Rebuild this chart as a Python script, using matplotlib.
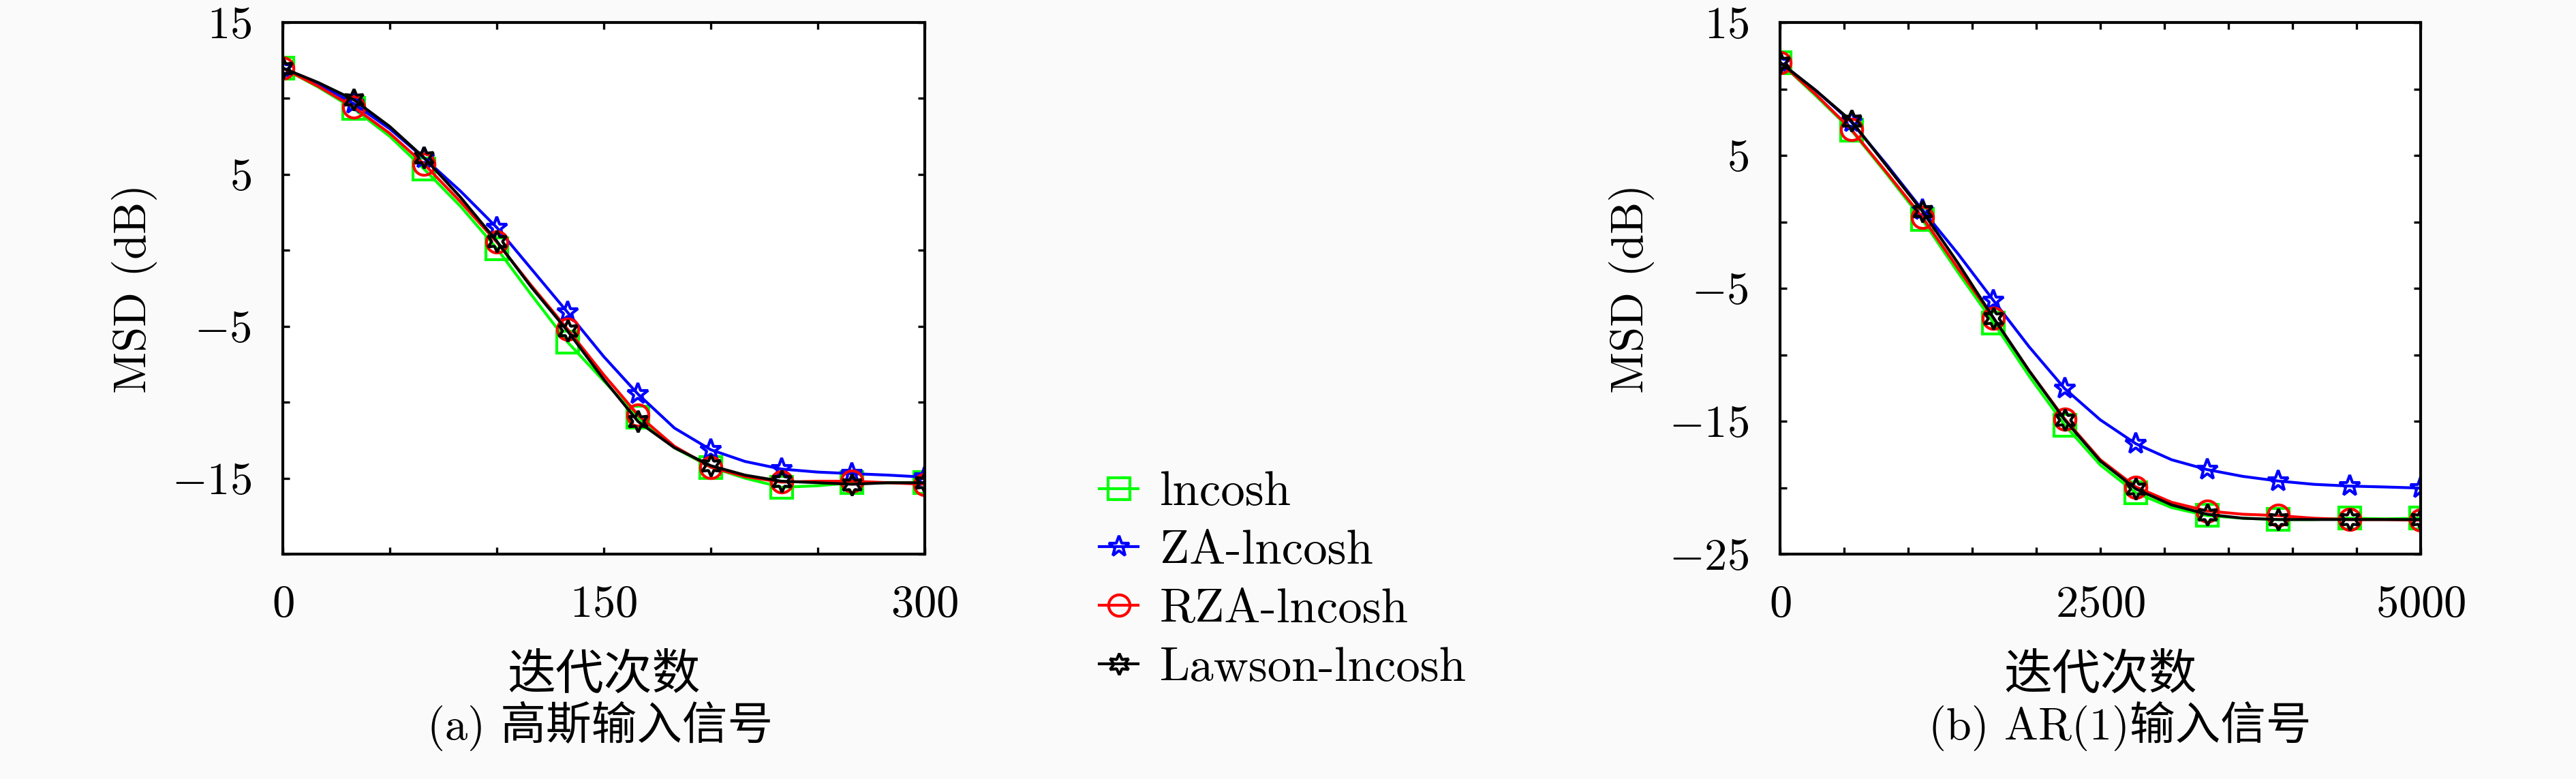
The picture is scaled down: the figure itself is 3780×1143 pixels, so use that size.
import numpy as np
import matplotlib
matplotlib.use("Agg")
import matplotlib.pyplot as plt
from matplotlib.ticker import MultipleLocator, FixedLocator

plt.rcParams['font.family'] = ['cmr10', 'Noto Sans CJK SC', 'DejaVu Sans']
plt.rcParams['mathtext.fontset'] = 'cm'
plt.rcParams['axes.formatter.use_mathtext'] = True
plt.rcParams['axes.unicode_minus'] = True

labels = ['lncosh', 'ZA-lncosh', 'RZA-lncosh', 'Lawson-lncosh']
colors = ['#00ff00', '#0000ff', '#ff0000', '#000000']
markers = ['s', '*', 'o', (6, 1, 0)]

# (a) Gaussian input, x every ~16.7 iterations (markers on every 2nd point)
xa = [0, 16.5, 33, 50, 66, 83, 100, 116, 133, 150, 166, 183, 200, 216, 233, 250, 266, 283, 300]
a_lncosh = [12.0, 10.75, 9.34, 7.5, 5.35, 2.9, 0.12, -2.9, -6.03, -8.6, -11.0, -13.0,
            -14.28, -15.0, -15.6, -15.5, -15.3, -15.3, -15.3]
a_za = [12.0, 10.95, 9.67, 8.0, 6.07, 3.9, 1.5, -1.2, -4.07, -7.0, -9.47, -11.7,
        -13.13, -13.9, -14.4, -14.6, -14.7, -14.8, -14.93]
a_rza = [12.0, 10.8, 9.44, 7.7, 5.68, 3.2, 0.54, -2.3, -5.18, -8.2, -10.84, -12.9,
         -14.28, -14.9, -15.26, -15.2, -15.2, -15.3, -15.4]
a_lawson = [12.0, 11.05, 9.93, 8.15, 6.1, 3.5, 0.6, -2.4, -5.3, -8.5, -11.27, -13.0,
            -14.18, -14.8, -15.2, -15.3, -15.4, -15.3, -15.3]

# (b) AR(1) input
xb = [0, 278, 556, 833, 1111, 1389, 1667, 1944, 2222, 2500, 2778, 3056, 3333, 3611,
      3889, 4167, 4444, 4722, 5000]
b_lncosh = [12.0, 9.5, 6.9, 3.6, 0.16, -3.8, -7.6, -11.6, -15.3, -18.3, -20.4, -21.5,
            -22.1, -22.3, -22.4, -22.4, -22.3, -22.35, -22.3]
b_za = [12.0, 9.9, 7.52, 4.3, 0.9, -2.4, -5.93, -9.4, -12.55, -14.9, -16.7, -17.9,
        -18.64, -19.15, -19.5, -19.75, -19.88, -19.95, -20.03]
b_rza = [12.0, 9.6, 6.96, 3.7, 0.35, -3.5, -7.24, -11.2, -14.83, -17.9, -19.95, -21.1,
         -21.75, -22.0, -22.1, -22.3, -22.4, -22.4, -22.45]
b_lawson = [12.0, 9.9, 7.6, 4.2, 0.8, -3.1, -7.24, -11.2, -14.9, -18.0, -20.1, -21.3,
            -22.0, -22.3, -22.4, -22.4, -22.4, -22.4, -22.4]

fs = 16
fig = plt.figure(figsize=(12.6, 3.81), dpi=300, facecolor='#fafafa')
ax1 = fig.add_axes([0.1098, 0.2887, 0.2492, 0.6824])
ax2 = fig.add_axes([0.6910, 0.2887, 0.2487, 0.6824])


def draw(ax, x, series, xmax, xstep, xlab, ymin, ylab):
    for y, c, m, lb in zip(series, colors, markers, labels):
        ax.plot(x, y, color=c, lw=1.0, marker=m, markevery=2, markersize=7.5,
                markerfacecolor='none', markeredgecolor=c, markeredgewidth=1.0, label=lb)
    ax.set_xlim(0, xmax)
    ax.set_ylim(ymin, 15)
    ax.xaxis.set_major_locator(FixedLocator(xlab))
    ax.xaxis.set_minor_locator(MultipleLocator(xstep))
    ax.yaxis.set_major_locator(FixedLocator(ylab))
    ax.yaxis.set_minor_locator(MultipleLocator(5))
    ax.tick_params(which='both', direction='in', top=True, right=True, length=2.5,
                   width=0.8, labelsize=fs, pad=11)
    ax.set_facecolor('white')
    for s in ax.spines.values():
        s.set_linewidth(1.0)
    ax.set_xlabel('迭代次数', fontsize=fs + 1, labelpad=10)
    ax.set_ylabel('MSD (dB)', fontsize=fs, labelpad=5)


draw(ax1, xa, [a_lncosh, a_za, a_rza, a_lawson], 300, 50, [0, 150, 300], -20, [15, 5, -5, -15])
draw(ax2, xb, [b_lncosh, b_za, b_rza, b_lawson], 5000, 500, [0, 2500, 5000], -25,
     [15, 5, -5, -15, -25])

fig.text(0.233, 0.068, '(a) 高斯输入信号', fontsize=fs, ha='center', va='center')
fig.text(0.823, 0.068, '(b) AR(1)输入信号', fontsize=fs, ha='center', va='center')

h, l = ax1.get_legend_handles_labels()
fig.legend(h, l, loc='center', bbox_to_anchor=(0.498, 0.2545), frameon=False,
           fontsize=17, handlelength=0.8, handletextpad=0.45, labelspacing=0.31)

fig.savefig('out.png', dpi=300, facecolor=fig.get_facecolor())
